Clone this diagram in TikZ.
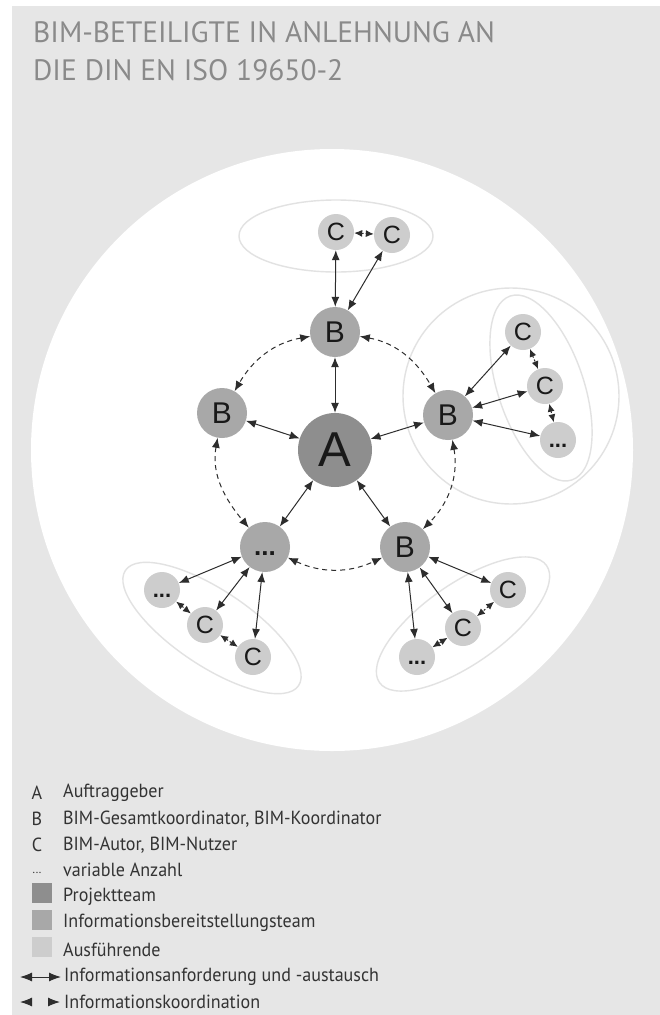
\documentclass[tikz,border=0pt]{standalone}
\usepackage{fontspec}
\setmainfont{Liberation Sans}
\newfontfamily\dinfont[FakeStretch=0.95]{PT Sans}
\newfontfamily\titlefont{PT Sans}
\usetikzlibrary{arrows.meta}

\definecolor{bggray}{RGB}{230,230,230}
\definecolor{projgray}{RGB}{142,142,142}
\definecolor{infogray}{RGB}{168,168,168}
\definecolor{execgray}{RGB}{205,205,205}
\definecolor{ringgray}{RGB}{226,226,226}
\definecolor{linegray}{RGB}{45,45,45}
\definecolor{titlegray}{RGB}{138,138,138}

\tikzset{
    x=1pt, y=1pt,
    person/.style={circle,inner sep=0pt,text=black!90},
    teamA/.style={person,fill=projgray,minimum size=74pt,
        font=\fontsize{49}{49}\selectfont},
    teamB/.style={person,fill=infogray,minimum size=50pt,
        font=\fontsize{30}{30}\selectfont},
    teamC/.style={person,fill=execgray,minimum size=36pt,
        font=\fontsize{25}{25}\selectfont},
    tip/.tip={Latex[length=10pt,width=8pt]},
    smalltip/.tip={Latex[length=8pt,width=7pt]},
    bigtip/.tip={Latex[length=12pt,width=9pt]},
    info/.style={draw=linegray,line width=1pt,tip-tip},
    coord/.style={info,dash pattern=on 5pt off 4pt},
    near/.style={coord,smalltip-smalltip,dash pattern=on 2pt off 2pt},
    group/.style={draw=ringgray,line width=1.4pt},
    legend/.style={anchor=west,inner sep=0pt,text=black!80,
        font=\dinfont\fontsize{19}{19}\selectfont},
    swatch/.style={minimum size=20pt,inner sep=0pt},
}
\newcommand{\bigdots}{\vphantom{B}\textbf{...}}

\begin{document}
\begin{tikzpicture}
    \useasboundingbox (0,0) rectangle (660,-1015);
    %% Background
    \fill[white] (0,0) rectangle (660,-1015);
    \fill[bggray] (12,-6) rectangle (660,-1015);
    \fill[white] (332,-450) circle[radius=301];

    %% Title
    \node[anchor=base west,inner sep=0pt,text=titlegray,
        font=\titlefont\fontsize{29.5}{29.5}\selectfont] (title1) at (33,-42)
        {BIM-BETEILIGTE IN ANLEHNUNG AN};
    \node[anchor=base west,inner sep=0pt,text=titlegray,
        font=\titlefont\fontsize{29.5}{29.5}\selectfont] (title2) at (33,-80)
        {DIE DIN EN ISO 19650-2};

    %% Groups
    \draw[group] (336,-236) ellipse[x radius=97,y radius=36];
    \draw[group] (511,-396) circle[radius=108];
    \draw[group,rotate around={18.5:(541,-388)}]
        (541,-388) ellipse[x radius=43,y radius=97];
    \draw[group,rotate around={-33.6:(212,-628)}]
        (212,-628) ellipse[x radius=104,y radius=38];
    \draw[group,rotate around={35:(463,-624)}]
        (463,-624) ellipse[x radius=102,y radius=40];

    %% Project team
    \node[teamA] (A)  at (335,-450) {A};
    \node[teamB] (Bt) at (335,-332) {B};
    \node[teamB] (Bl) at (222,-413) {B};
    \node[teamB] (Br) at (448,-415) {B};
    \node[teamB] (Bb) at (405,-547) {B};
    \node[teamB,font=\fontsize{26}{26}\selectfont] (Dm) at (265,-547) {\bigdots};

    %% Executing parties
    \node[teamC] (Ct1) at (336,-232) {C};
    \node[teamC] (Ct2) at (392,-235) {C};
    \node[teamC] (Cr1) at (523,-332) {C};
    \node[teamC] (Cr2) at (545,-386) {C};
    \node[teamC,font=\fontsize{22}{22}\selectfont] (Dr) at (558,-440) {\bigdots};
    \node[teamC,font=\fontsize{22}{22}\selectfont] (Dl) at (162,-590) {\bigdots};
    \node[teamC] (Cl1) at (205,-625) {C};
    \node[teamC] (Cl2) at (253,-657) {C};
    \node[teamC] (Cb1) at (508,-590) {C};
    \node[teamC] (Cb2) at (463,-628) {C};
    \node[teamC,font=\fontsize{22}{22}\selectfont] (Db) at (417,-657) {\bigdots};

    %% Information exchange
    \foreach \b in {Bt,Bl,Br,Bb,Dm}
        \draw[info] (A) -- (\b);
    \draw[info] (Bt) -- (Ct1);
    \draw[info] (Bt) -- (Ct2);
    \draw[info] (Br) -- (Cr1);
    \draw[info] (Br) -- (Cr2);
    \draw[info] (Br) -- (Dr);
    \draw[info] (Dm) -- (Dl);
    \draw[info] (Dm) -- (Cl1);
    \draw[info] (Dm) -- (Cl2);
    \draw[info] (Bb) -- (Cb1);
    \draw[info] (Bb) -- (Cb2);
    \draw[info] (Bb) -- (Db);

    %% Coordination
    \draw[coord] (Bt) to[out=190,in=60] (Bl);
    \draw[coord] (Bt) to[out=-10,in=120] (Br);
    \draw[coord] (Bl) to[out=260,in=130] (Dm);
    \draw[coord] (Br) to[out=280,in=45] (Bb);
    \draw[coord] (Dm) to[out=-25,in=205] (Bb);
    \draw[near] (Ct1) -- (Ct2);
    \draw[near] (Cr1) -- (Cr2);
    \draw[near] (Cr2) -- (Dr);
    \draw[near] (Dl) -- (Cl1);
    \draw[near] (Cl1) -- (Cl2);
    \draw[near] (Cb1) -- (Cb2);
    \draw[near] (Cb2) -- (Db);

    %% Legend
    \node[legend,anchor=center] (kA) at (37,-793) {A};
    \node[legend] (tA) at (63,-793) {Auftraggeber};
    \node[legend,anchor=center] (kB) at (37,-819) {B};
    \node[legend] (tB) at (63,-819) {BIM-Gesamtkoordinator, BIM-Koordinator};
    \node[legend,anchor=center] (kC) at (37,-845) {C};
    \node[legend] (tC) at (63,-845) {BIM-Autor, BIM-Nutzer};
    \node[legend,anchor=center,font=\dinfont\fontsize{12}{12}\selectfont]
        (kD) at (37,-873) {...};
    \node[legend] (tD) at (63,-870) {variable Anzahl};
    \node[swatch,fill=projgray] (kP) at (42,-893) {};
    \node[legend] (tP) at (63,-897) {Projektteam};
    \node[swatch,fill=infogray] (kI) at (42,-920) {};
    \node[legend] (tI) at (63,-923) {Informationsbereitstellungsteam};
    \node[swatch,fill=execgray] (kE) at (42,-947) {};
    \node[legend] (tE) at (63,-950) {Ausführende};
    \coordinate (kX1) at (20,-977);
    \coordinate (kX2) at (61,-977);
    \draw[info,bigtip-bigtip] (kX1) -- (kX2);
    \node[legend] (tX) at (64,-977) {Informationsanforderung und -austausch};
    \coordinate (kK1) at (20,-1002);
    \coordinate (kK2) at (60,-1002);
    \draw[coord,bigtip-bigtip,dash pattern=on 0pt off 30pt] (kK1) -- (kK2);
    \node[legend] (tK) at (64,-1002) {Informationskoordination};
\end{tikzpicture}
\end{document}
